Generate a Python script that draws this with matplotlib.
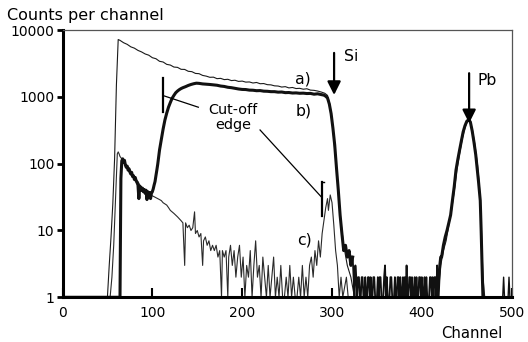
#!/usr/bin/env python3
# -*- coding: utf-8 -*-

import matplotlib
matplotlib.use("Agg")
import matplotlib.pyplot as plt
from matplotlib.ticker import NullLocator

# ---- spectrum a) : thin line, full beam ----
a_ch = [0, 50, 52, 54, 56, 58, 60, 62, 64, 68, 72, 76, 80, 84, 88, 92, 96, 100,
        104, 108, 112, 116, 120, 124, 128, 132, 136, 140, 144, 148, 152, 156, 160,
        164, 168, 172, 176, 180, 184, 188, 192, 196, 200, 204, 208, 212, 216, 220,
        224, 228, 232, 236, 240, 244, 248, 252, 256, 260, 264, 268, 272, 276, 280,
        284, 288, 292, 295, 298, 301, 305, 309, 313, 317, 321, 325, 418,
        421, 424, 427, 430, 433, 436, 439, 442, 445, 448, 451, 453, 456, 459, 462,
        464, 466, 468, 470, 500]
a_counts = [1, 1, 3, 8, 25, 120, 1500, 7200, 7000, 6450, 6100, 5600, 5350, 4950, 4700, 4380,
            4200, 3850, 3720, 3400, 3320, 3060, 2990, 2790, 2760, 2580, 2570, 2410, 2380,
            2240, 2220, 2090, 2040, 1960, 1970, 1870, 1890, 1810, 1830, 1750, 1770, 1700,
            1720, 1660, 1670, 1610, 1640, 1570, 1580, 1520, 1510, 1460, 1450, 1400, 1420,
            1360, 1380, 1330, 1340, 1300, 1320, 1260, 1250, 1220, 1180, 1130, 1050, 720,
            330, 82, 17, 6, 3, 2, 1, 1,
            3, 5, 7, 12, 20, 38, 80, 140, 235, 345, 440, 450, 335, 195, 95,
            48, 14, 2, 1, 1]

# ---- spectrum b) : thick line, with cut-off ----
b_ch = [0, 64, 65, 66, 67, 68, 69, 70, 71, 72, 73, 74, 75, 76, 77, 78, 79, 80, 81,
        82, 83, 84, 85, 86, 87, 88, 89, 90, 91, 92, 93, 94, 95, 96, 97, 98, 99, 100,
        101, 102, 103, 104, 105, 106, 107, 108, 110, 112, 114, 116, 118, 120, 122,
        124, 126, 128, 130, 132, 134, 137, 140, 143, 146, 149, 152, 156, 160, 164,
        168, 172, 176, 180, 184, 188, 192, 196, 200, 204, 208, 212, 216, 220, 224,
        228, 232, 236, 240, 244, 248, 252, 256, 260, 264, 268, 272, 276, 280, 284,
        288, 291, 293, 295, 297, 299, 301, 303, 305, 307, 309, 311, 313, 315, 317,
        319, 321, 323]
b_counts = [1, 1, 60, 110, 118, 105, 112, 95, 88, 92, 80, 84, 75, 70, 74, 64, 66, 58, 62,
            55, 52, 48, 30, 46, 44, 40, 43, 38, 41, 36, 40, 29, 38, 35, 37, 30, 36, 38,
            42, 48, 54, 66, 80, 98, 125, 160, 230, 330, 450, 570, 700, 820, 950,
            1050, 1150, 1220, 1280, 1330, 1370, 1420, 1480, 1530, 1570, 1600, 1590, 1560,
            1545, 1530, 1510, 1490, 1450, 1430, 1390, 1370, 1340, 1310, 1290, 1285, 1260,
            1255, 1235, 1240, 1215, 1210, 1195, 1195, 1175, 1180, 1155, 1160, 1140, 1145,
            1130, 1135, 1120, 1125, 1095, 1110, 1080, 1060, 1020, 960, 780, 560, 340, 190,
            85, 40, 17, 9, 5, 6, 4, 5, 3, 4]
# counts between the Si edge and the Pb peak (channels 324..418)
b_gap = [2, 1, 3, 2, 1, 2, 2, 1, 1, 2,
         2, 1, 1, 2, 1, 1, 2, 2, 1, 2,
         1, 1, 2, 2, 1, 1, 1, 2, 1, 2,
         2, 1, 1, 1, 2, 3, 1, 2, 1, 1,
         1, 2, 2, 1, 1, 1, 2, 1, 1, 2,
         2, 1, 2, 1, 1, 2, 1, 2, 1, 3,
         1, 1, 2, 2, 1, 2, 1, 1, 2, 1,
         2, 1, 1, 2, 2, 1, 2, 1, 1, 2,
         1, 2, 1, 1, 1, 2, 2, 1, 2, 1,
         2, 2, 1, 3, 2]
b_gap_start = 324
# Pb peak
b_pb_ch = [418, 419, 420, 421, 422, 424, 426, 428, 430, 432, 434, 436, 438, 440, 442, 444,
           446, 448, 450, 452, 454, 456, 458, 460, 461, 463, 465, 466, 467, 468]
b_pb_counts = [1, 2, 3, 4, 4, 6, 8, 10, 13, 17, 28, 45, 80, 115, 160, 220,
               300, 370, 430, 455, 420, 310, 210, 135, 100, 55, 28, 10, 3, 1]
# tail above the Pb peak
b_tail_ch = [468, 480, 490, 491, 492, 496, 497, 498, 500]
b_tail_counts = [1, 1, 1, 2, 1, 1, 2, 1, 1]

# ---- spectrum c) : thin line, low counts ----
c_ch = [0, 53, 55, 57, 59, 61, 62, 63, 64, 66, 68, 70, 72, 74, 76, 78, 80, 82, 84, 86,
        88, 90, 92, 94, 96, 98, 100, 102, 104, 106, 108, 110, 112, 114, 116, 118, 120,
        122, 124, 126, 128, 130, 132, 134, 136, 137, 139, 141, 143, 145, 147, 148, 150,
        152, 154, 156, 157, 159, 161, 163, 165, 167, 169, 171, 173, 175, 177, 178, 180,
        182, 184, 185, 187, 189, 191, 193, 195, 197, 199, 201, 203, 205, 207, 209, 211,
        213, 215, 217, 219, 221, 223, 225, 227, 229, 231, 233, 235, 237, 239, 241, 243,
        245, 247, 249, 251, 253, 255, 257, 259, 261, 263, 265, 267, 269, 271, 273, 275,
        277, 279, 281, 283, 285, 287, 289, 291, 293, 295, 296, 298, 300, 302, 304, 306,
        308, 310, 312, 316, 318, 322, 324]
c_counts = [1, 1, 2, 6, 30, 140, 150, 140, 128, 118, 110, 100, 92, 85, 78, 70, 64, 58, 54, 48,
            45, 42, 39, 37, 35, 34, 33, 32, 31, 30, 29, 28, 26, 25, 24, 22, 20,
            19, 18, 17, 16, 15, 14, 13, 3, 13, 11, 12, 10, 11, 19, 9, 10,
            8, 9, 3, 7, 8, 6, 7, 5, 6, 5, 6, 4, 5, 1, 5, 4,
            5, 1, 4, 6, 3, 5, 2, 4, 6, 2, 4, 1, 3, 2, 5, 1,
            3, 7, 2, 3, 1, 4, 2, 1, 3, 1, 2, 4, 1, 2, 1, 3,
            1, 1, 2, 1, 3, 1, 2, 1, 1, 2, 1, 3, 1, 2, 1, 3,
            4, 2, 5, 3, 7, 4, 9, 14, 22, 30, 20, 34, 26, 12, 5, 3,
            1, 2, 1, 2, 1, 1, 1]

# ---- annotations (data units) ----
si_x, si_top, si_tip = 302.3, 4540, 1067
pb_x, pb_top, pb_tip = 452.6, 2256, 403
cut1_bar = (112.2, 1898, 588)
cut1_line = ((151.2, 699), (112.2, 1042))
cut2_bar = (289.0, 53.8, 16.5)
cut2_line = ((219.9, 319), (287.9, 32))

W, H = 528, 342


def main() -> int:
    fig = plt.figure(figsize=(W / 100, H / 100), dpi=100)
    x0, x1, y0, y1 = 62.5, 511.7, 30.0, 297.3
    ax = fig.add_axes([x0 / W, 1 - y1 / H, (x1 - x0) / W, (y1 - y0) / H])

    gap_ch = [b_ch[-1]] + list(range(b_gap_start, b_gap_start + len(b_gap))) + [b_pb_ch[0]]
    gap_counts = [b_counts[-1]] + b_gap + [b_pb_counts[0]]

    ax.plot(c_ch, c_counts, color="#2a2a2a", lw=0.8)
    ax.plot(a_ch, a_counts, color="#1a1a1a", lw=0.8)
    ax.plot(b_ch, b_counts, color="#111111", lw=2.2, solid_joinstyle="round")
    ax.plot(gap_ch, gap_counts, color="#111111", lw=1.3)
    ax.plot(b_pb_ch, b_pb_counts, color="#111111", lw=2.2, solid_joinstyle="round")
    ax.plot(b_tail_ch, b_tail_counts, color="#111111", lw=1.0)

    ax.set_yscale("log")
    ax.set_xlim(0, 500)
    ax.set_ylim(1, 10000)
    ax.set_yticks([1, 10, 100, 1000, 10000])
    ax.set_yticklabels(["1", "10", "100", "1000", "10000"])
    ax.yaxis.set_minor_locator(NullLocator())
    ax.set_xticks([0, 100, 200, 300, 400, 500])
    ax.set_xticklabels(["0", "100", "200", "300", "400", "500"])

    ax.tick_params(axis="y", direction="out", length=4.3, width=2, pad=1.5, labelsize=10)
    ax.tick_params(axis="x", direction="in", length=6.8, width=1.5, pad=6, labelsize=10)

    for side in ("left", "bottom"):
        ax.spines[side].set_linewidth(2.2)
        ax.spines[side].set_color("black")
    for side in ("top", "right"):
        ax.spines[side].set_linewidth(0.9)
        ax.spines[side].set_color("#555555")

    # arrows for Si and Pb
    astyle = dict(arrowstyle="-|>,head_length=0.4,head_width=0.2", color="black",
                  lw=1.6, mutation_scale=20, shrinkA=0, shrinkB=0)
    ax.annotate("", xy=(si_x, si_tip), xytext=(si_x, si_top), arrowprops=astyle)
    ax.annotate("", xy=(pb_x, pb_tip), xytext=(pb_x, pb_top), arrowprops=astyle)
    ax.text(313.5, 3450, "Si", fontsize=11.3, va="baseline")
    ax.text(461.6, 1503, "Pb", fontsize=11.3, va="baseline")

    ax.text(259, 1820, "a)", fontsize=11.3, va="center")
    ax.text(259, 615, "b)", fontsize=11.3, va="center")
    ax.text(261, 7.2, "c)", fontsize=11.3, va="center")

    # cut-off edge markers
    ax.text(189.9, 560, "Cut-off", fontsize=10.4, ha="center", va="baseline")
    ax.text(189.9, 335, "edge", fontsize=10.4, ha="center", va="baseline")
    ax.plot([cut1_bar[0]] * 2, cut1_bar[1:], color="black", lw=1.6)
    ax.plot(*zip(*cut1_line), color="black", lw=0.9)
    ax.plot([cut2_bar[0]] * 2, cut2_bar[1:], color="black", lw=1.6)
    ax.plot([cut2_bar[0], cut2_bar[0] + 2.5], [cut2_bar[1]] * 2, color="black", lw=1.0)
    ax.plot(*zip(*cut2_line), color="black", lw=0.9)

    fig.text(7 / W, 1 - 20 / H, "Counts per channel", fontsize=11.5, va="baseline")
    fig.text(502 / W, 1 - 337.7 / H, "Channel", fontsize=10.7, ha="right", va="baseline")

    fig.savefig("out.png", dpi=100)
    return 0


if __name__ == "__main__":
    raise SystemExit(main())
